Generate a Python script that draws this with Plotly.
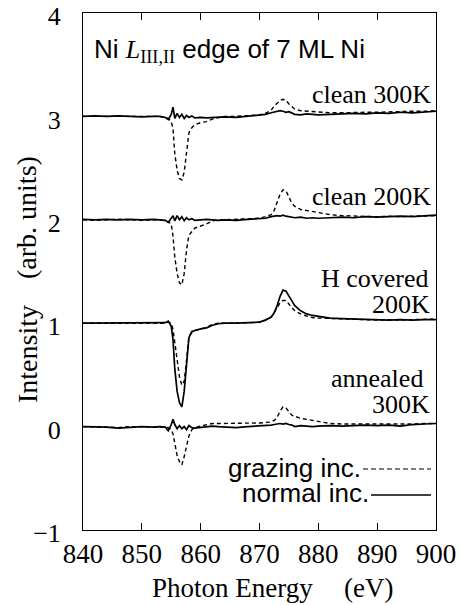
import plotly.graph_objects as go

# Photon energy grid (eV)
energy = [840, 842, 844, 846, 848, 850, 852, 853, 854, 854.5,
          855, 855.3, 855.6, 856, 856.4, 856.8, 857.2, 857.6, 858, 858.5,
          859, 860, 861, 862, 863, 864, 866, 868, 870, 871,
          872, 872.5, 873, 873.5, 874, 874.5, 875, 875.5, 876, 877,
          878, 879, 880, 882, 884, 886, 888, 890, 892, 894,
          896, 898, 900]

# Values relative to each spectrum's offset
clean300_grazing = [0.0, 0.0, -0.005, 0.0, 0.0, 0.0, 0.0, 0.0, -0.01, -0.02,
                    -0.05, -0.12, -0.36, -0.52, -0.60, -0.615, -0.54, -0.32, -0.16, -0.11,
                    -0.08, -0.06, -0.05, -0.025, -0.01, 0.0, 0.0, 0.005, 0.015, 0.03,
                    0.06, 0.10, 0.13, 0.155, 0.165, 0.155, 0.12, 0.09, 0.07, 0.055,
                    0.05, 0.045, 0.04, 0.035, 0.035, 0.04, 0.04, 0.04, 0.045, 0.045,
                    0.05, 0.05, 0.055]
clean300_normal = [0.0, 0.005, 0.0, 0.005, 0.0, -0.005, 0.0, 0.0, -0.01, -0.03,
                   0.02, 0.09, -0.02, 0.03, -0.01, 0.02, -0.02, 0.01, -0.01, 0.005,
                   -0.015, -0.01, -0.015, -0.01, -0.01, -0.005, -0.01, 0.0, 0.01, 0.02,
                   0.035, 0.04, 0.05, 0.055, 0.05, 0.04, 0.045, 0.03, 0.02, 0.015,
                   0.025, 0.02, 0.015, 0.02, 0.025, 0.03, 0.025, 0.035, 0.03, 0.04,
                   0.035, 0.045, 0.05]
clean200_grazing = [0.0, -0.005, 0.0, 0.005, 0.0, -0.005, 0.0, 0.0, -0.01, -0.02,
                    -0.04, -0.16, -0.36, -0.52, -0.61, -0.63, -0.52, -0.29, -0.15, -0.11,
                    -0.08, -0.06, -0.04, -0.01, 0.0, 0.0, 0.005, 0.005, 0.015, 0.03,
                    0.05, 0.09, 0.17, 0.25, 0.29, 0.28, 0.22, 0.16, 0.13, 0.10,
                    0.09, 0.08, 0.07, 0.05, 0.04, 0.035, 0.03, 0.03, 0.035, 0.03,
                    0.035, 0.04, 0.04]
clean200_normal = [0.005, 0.0, 0.005, 0.0, 0.005, 0.0, 0.005, 0.0, -0.005, -0.025,
                   0.015, 0.04, -0.01, 0.04, 0.0, 0.03, -0.01, 0.02, 0.0, 0.01,
                   -0.005, 0.0, 0.005, 0.0, -0.005, 0.0, -0.005, 0.005, 0.01, 0.015,
                   0.03, 0.035, 0.04, 0.035, 0.045, 0.035, 0.03, 0.025, 0.02, 0.025,
                   0.015, 0.02, 0.015, 0.02, 0.025, 0.02, 0.03, 0.025, 0.03, 0.035,
                   0.03, 0.04, 0.045]
hcov200_grazing = [0.0, 0.0, 0.0, 0.0, 0.0, 0.0, 0.0, 0.0, 0.0, 0.01,
                   0.0, -0.06, -0.20, -0.38, -0.52, -0.60, -0.56, -0.36, -0.13, -0.09,
                   -0.07, -0.055, -0.04, -0.01, 0.0, 0.0, 0.0, 0.005, 0.01, 0.03,
                   0.06, 0.10, 0.15, 0.20, 0.22, 0.22, 0.18, 0.15, 0.12, 0.09,
                   0.07, 0.055, 0.05, 0.045, 0.04, 0.035, 0.035, 0.03, 0.035, 0.03,
                   0.035, 0.04, 0.04]
hcov200_normal = [0.0, 0.0, 0.005, 0.0, 0.0, 0.005, 0.0, 0.0, 0.005, 0.02,
                  -0.03, -0.16, -0.44, -0.66, -0.77, -0.81, -0.66, -0.40, -0.14, -0.08,
                  -0.07, -0.055, -0.045, -0.02, -0.005, 0.0, 0.0, 0.005, 0.01, 0.03,
                  0.06, 0.10, 0.17, 0.26, 0.32, 0.31, 0.26, 0.21, 0.17, 0.12,
                  0.09, 0.075, 0.065, 0.05, 0.045, 0.04, 0.035, 0.035, 0.03, 0.035,
                  0.03, 0.035, 0.035]
anneal300_grazing = [0.0, 0.0, -0.005, -0.01, 0.0, 0.0, 0.0, 0.0, -0.005, -0.01,
                     -0.03, -0.07, -0.18, -0.28, -0.34, -0.37, -0.29, -0.19, -0.09, -0.03,
                     -0.01, 0.005, 0.02, 0.03, 0.03, 0.03, 0.03, 0.03, 0.035, 0.04,
                     0.045, 0.06, 0.09, 0.15, 0.19, 0.18, 0.14, 0.11, 0.10, 0.08,
                     0.07, 0.06, 0.045, 0.03, 0.025, 0.025, 0.025, 0.02, 0.025, 0.02,
                     0.025, 0.03, 0.03]
anneal300_normal = [0.0, 0.0, -0.005, -0.015, -0.005, 0.0, -0.005, 0.0, -0.005, -0.04,
                    0.02, 0.07, 0.02, -0.02, 0.01, -0.02, 0.0, -0.03, 0.01, -0.01,
                    -0.015, -0.01, 0.0, 0.005, 0.0, -0.005, -0.01, 0.0, 0.005, 0.01,
                    0.015, 0.02, 0.025, 0.03, 0.025, 0.03, 0.02, 0.015, 0.0, 0.01,
                    0.005, 0.0, 0.005, 0.01, 0.005, 0.01, 0.015, 0.01, 0.015, 0.005,
                    0.02, 0.025, 0.03]

offsets = [3, 2, 1, 0]
grazing_sets = [clean300_grazing, clean200_grazing, hcov200_grazing, anneal300_grazing]
normal_sets = [clean300_normal, clean200_normal, hcov200_normal, anneal300_normal]

x_ticks = [840, 850, 860, 870, 880, 890, 900]
y_ticks = [-1, 0, 1, 2, 3, 4]
y_ticktext = ["\u22121", "0", "1", "2", "3", "4"]

SERIF = "Liberation Serif, Times New Roman, serif"
SANS = "Liberation Sans, Arial, sans-serif"

fig = go.Figure()
for g, n, off in zip(grazing_sets, normal_sets, offsets):
    fig.add_trace(go.Scatter(x=energy, y=[v + off for v in g], mode="lines",
                             line=dict(color="black", width=1.4, dash="4px,3px"),
                             hoverinfo="skip"))
    fig.add_trace(go.Scatter(x=energy, y=[v + off for v in n], mode="lines",
                             line=dict(color="black", width=1.7),
                             hoverinfo="skip"))

L, R, T, B = 83, 436, 13, 530
W, H = 461, 605


def px_x(p):
    return (p - L) / (R - L)


def px_y(p):
    return (B - p) / (B - T)


annotations = [
    dict(text='Ni <span style="font-family:Liberation Serif"><i>L</i><sub>III,II</sub></span> edge of 7 ML Ni',
         x=px_x(92), y=px_y(50), xanchor="left", yanchor="middle",
         font=dict(family=SANS, size=26, color="black")),
    dict(text="clean 300K", x=px_x(433), y=px_y(94), xanchor="right", yanchor="middle",
         font=dict(family=SERIF, size=26, color="black")),
    dict(text="clean 200K", x=px_x(433), y=px_y(196), xanchor="right", yanchor="middle",
         font=dict(family=SERIF, size=26, color="black")),
    dict(text="H covered", x=px_x(431), y=px_y(278), xanchor="right", yanchor="middle",
         font=dict(family=SERIF, size=26, color="black")),
    dict(text="200K", x=px_x(432), y=px_y(304), xanchor="right", yanchor="middle",
         font=dict(family=SERIF, size=26, color="black")),
    dict(text="annealed", x=px_x(425), y=px_y(378), xanchor="right", yanchor="middle",
         font=dict(family=SERIF, size=26, color="black")),
    dict(text="300K", x=px_x(432), y=px_y(404), xanchor="right", yanchor="middle",
         font=dict(family=SERIF, size=26, color="black")),
    dict(text="grazing inc.", x=px_x(363), y=px_y(468), xanchor="right", yanchor="middle",
         font=dict(family=SANS, size=26, color="black")),
    dict(text="normal inc.", x=px_x(371), y=px_y(493), xanchor="right", yanchor="middle",
         font=dict(family=SANS, size=26, color="black")),
    dict(text="Photon Energy", x=px_x(150), y=px_y(588), xanchor="left", yanchor="middle",
         font=dict(family=SERIF, size=27, color="black")),
    dict(text="(eV)", x=px_x(342), y=px_y(588), xanchor="left", yanchor="middle",
         font=dict(family=SERIF, size=27, color="black")),
    dict(text="Intensity", x=px_x(27), y=px_y(354), xanchor="center", yanchor="middle",
         textangle=-90, font=dict(family=SERIF, size=28, color="black")),
    dict(text="(arb. units)", x=px_x(27), y=px_y(218), xanchor="center", yanchor="middle",
         textangle=-90, font=dict(family=SERIF, size=28, color="black")),
]
for a in annotations:
    a.update(xref="paper", yref="paper", showarrow=False)

shapes = [
    dict(type="line", xref="paper", yref="paper", x0=px_x(363), x1=px_x(431),
         y0=px_y(469), y1=px_y(469), line=dict(color="black", width=1.2, dash="5px,3px")),
    dict(type="line", xref="paper", yref="paper", x0=px_x(371), x1=px_x(431),
         y0=px_y(495), y1=px_y(495), line=dict(color="black", width=1.5)),
]

fig.update_layout(
    width=W, height=H,
    margin=dict(l=L, r=W - R, t=T, b=H - B, autoexpand=False),
    paper_bgcolor="white", plot_bgcolor="white",
    showlegend=False,
    annotations=annotations,
    shapes=shapes,
    xaxis=dict(range=[840, 900], tickvals=x_ticks, ticks="inside", ticklen=7,
               tickcolor="black", tickwidth=1, mirror="ticks", showline=True,
               linecolor="black", linewidth=1, showgrid=False, zeroline=False,
               ticklabeloverflow="allow", automargin=False,
               tickfont=dict(family=SERIF, size=27, color="black")),
    yaxis=dict(range=[-1, 4], tickvals=y_ticks, ticktext=y_ticktext, ticks="",
               showline=True, mirror=True, linecolor="black", linewidth=1,
               showgrid=False, zeroline=False, ticklabelstandoff=16,
               ticklabelshift=3,
               ticklabeloverflow="allow", automargin=False,
               tickfont=dict(family=SERIF, size=26, color="black")),
)

fig.write_html("out.html")
